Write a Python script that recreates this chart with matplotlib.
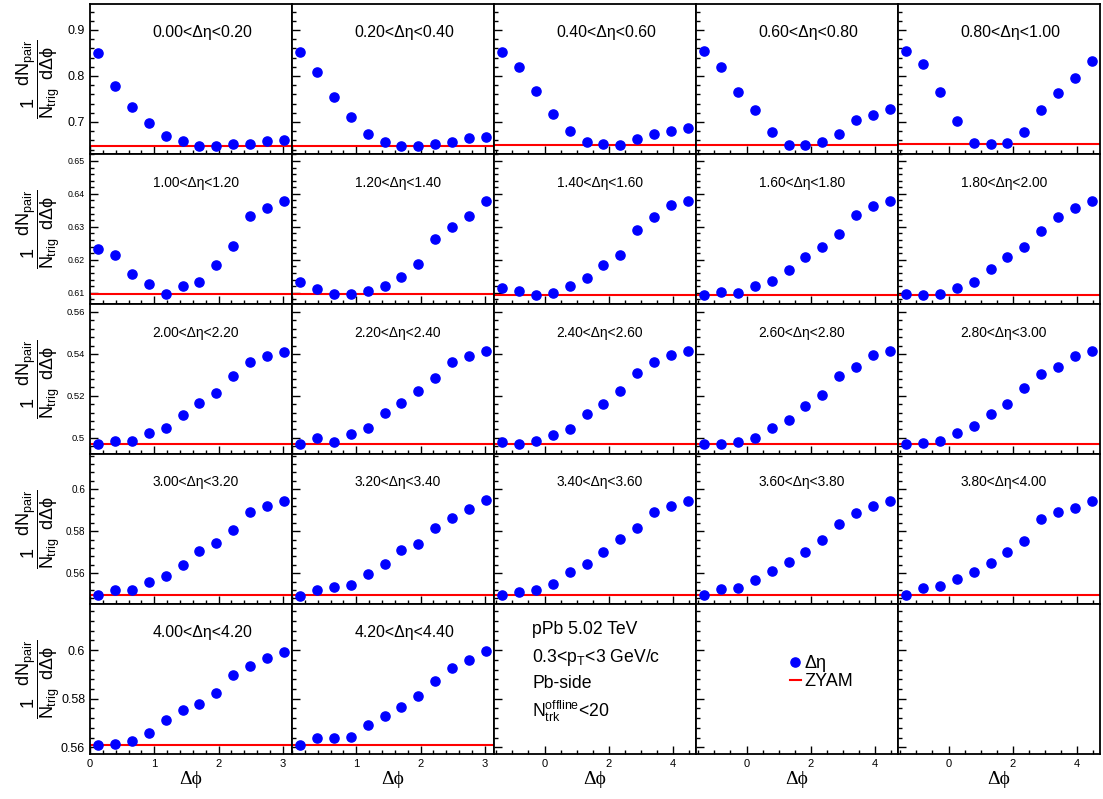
import numpy as np
import matplotlib
matplotlib.use("Agg")
import matplotlib.pyplot as plt
from matplotlib.ticker import MultipleLocator, FormatStrFormatter
from matplotlib.lines import Line2D

plt.rcParams["font.family"] = ["Liberation Sans", "DejaVu Sans"]
plt.rcParams["mathtext.fontset"] = "custom"
plt.rcParams["mathtext.rm"] = "Liberation Sans"
plt.rcParams["mathtext.it"] = "Liberation Sans"
plt.rcParams["mathtext.sf"] = "Liberation Sans"

# delta-phi bin centres: near side only (first two columns) and full range
dphi_near = [0.13, 0.39, 0.65, 0.92, 1.18, 1.44, 1.70, 1.96, 2.23, 2.49, 2.75, 3.01]
dphi_full = [-1.31, -0.79, -0.26, 0.26, 0.79, 1.31, 1.83, 2.36, 2.88, 3.40, 3.93, 4.45]

deta_lo = [0.0, 0.2, 0.4, 0.6, 0.8, 1.0, 1.2, 1.4, 1.6, 1.8, 2.0, 2.2,
           2.4, 2.6, 2.8, 3.0, 3.2, 3.4, 3.6, 3.8, 4.0, 4.2]

# 1/Ntrig dN/dDphi per delta-eta slice, five slices per row
row1 = [
    [0.851, 0.778, 0.733, 0.697, 0.670, 0.658, 0.648, 0.647, 0.652, 0.652, 0.659, 0.660],
    [0.853, 0.808, 0.754, 0.711, 0.674, 0.657, 0.648, 0.648, 0.652, 0.657, 0.665, 0.667],
    [0.853, 0.820, 0.767, 0.717, 0.680, 0.657, 0.652, 0.649, 0.662, 0.674, 0.680, 0.686],
    [0.854, 0.820, 0.765, 0.725, 0.678, 0.650, 0.650, 0.657, 0.674, 0.704, 0.715, 0.728],
    [0.855, 0.825, 0.765, 0.703, 0.654, 0.652, 0.654, 0.678, 0.725, 0.762, 0.796, 0.833],
]
row2 = [
    [0.6233, 0.6215, 0.6157, 0.6126, 0.6097, 0.6122, 0.6134, 0.6183, 0.6243, 0.6332, 0.6356, 0.6379],
    [0.6132, 0.6111, 0.6096, 0.6096, 0.6104, 0.6120, 0.6148, 0.6186, 0.6264, 0.6301, 0.6332, 0.6379],
    [0.6116, 0.6106, 0.6094, 0.6099, 0.6122, 0.6145, 0.6183, 0.6215, 0.6291, 0.6329, 0.6367, 0.6379],
    [0.6093, 0.6102, 0.6098, 0.6121, 0.6137, 0.6169, 0.6208, 0.6240, 0.6279, 0.6335, 0.6363, 0.6379],
    [0.6097, 0.6093, 0.6096, 0.6116, 0.6133, 0.6173, 0.6208, 0.6238, 0.6288, 0.6329, 0.6357, 0.6379],
]
row3 = [
    [0.4969, 0.4986, 0.4984, 0.5021, 0.5046, 0.5109, 0.5164, 0.5212, 0.5297, 0.5363, 0.5391, 0.5411],
    [0.4969, 0.5000, 0.4980, 0.5019, 0.5049, 0.5117, 0.5164, 0.5223, 0.5284, 0.5363, 0.5392, 0.5416],
    [0.4978, 0.4969, 0.4984, 0.5013, 0.5040, 0.5114, 0.5161, 0.5225, 0.5307, 0.5360, 0.5395, 0.5414],
    [0.4970, 0.4970, 0.4981, 0.4999, 0.5046, 0.5087, 0.5154, 0.5206, 0.5297, 0.5340, 0.5393, 0.5414],
    [0.4969, 0.4975, 0.4986, 0.5022, 0.5057, 0.5112, 0.5163, 0.5236, 0.5305, 0.5336, 0.5392, 0.5414],
]
row4 = [
    [0.5494, 0.5520, 0.5518, 0.5558, 0.5587, 0.5638, 0.5706, 0.5745, 0.5806, 0.5890, 0.5920, 0.5944],
    [0.5492, 0.5521, 0.5536, 0.5545, 0.5595, 0.5645, 0.5709, 0.5737, 0.5814, 0.5865, 0.5907, 0.5947],
    [0.5497, 0.5509, 0.5520, 0.5547, 0.5606, 0.5643, 0.5702, 0.5763, 0.5816, 0.5891, 0.5922, 0.5946],
    [0.5494, 0.5525, 0.5531, 0.5566, 0.5610, 0.5654, 0.5699, 0.5760, 0.5833, 0.5888, 0.5922, 0.5946],
    [0.5497, 0.5531, 0.5539, 0.5571, 0.5606, 0.5648, 0.5699, 0.5754, 0.5856, 0.5890, 0.5910, 0.5946],
]
row5 = [
    [0.5609, 0.5614, 0.5627, 0.5660, 0.5711, 0.5752, 0.5777, 0.5822, 0.5897, 0.5934, 0.5967, 0.5993],
    [0.5611, 0.5640, 0.5640, 0.5644, 0.5692, 0.5730, 0.5767, 0.5812, 0.5874, 0.5926, 0.5958, 0.5995],
]

zyam = [
    [0.647, 0.648, 0.649, 0.650, 0.652],
    [0.6097, 0.6096, 0.6094, 0.6093, 0.6093],
    [0.4969, 0.4969, 0.4969, 0.4969, 0.4969],
    [0.5494, 0.5494, 0.5494, 0.5494, 0.5496],
    [0.5609, 0.5610],
]

rows = [row1, row2, row3, row4, row5]

ylims = [(0.6304, 0.9565), (0.6066, 0.6521), (0.4923, 0.5638), (0.5453, 0.6168), (0.5573, 0.6189)]
ymajor = [0.1, 0.01, 0.02, 0.02, 0.02]
ytick_size = [9, 6.3, 6.8, 7.2, 9]
label_size = [11.4, 9.9, 9.9, 9.9, 11.4]

ylabel = r"$\dfrac{1}{N_{\mathrm{trig}}}\dfrac{dN_{\mathrm{pair}}}{d\Delta\phi}$"
greek = ["Liberation Serif", "DejaVu Serif"]

W, H = 1103, 799
left, right, top, bottom = 90, 1100, 4, 754

fig, axes = plt.subplots(5, 5, figsize=(W/100, H/100), dpi=100)
fig.subplots_adjust(left=left/W, right=right/W, top=1-top/H, bottom=1-bottom/H,
                    wspace=0, hspace=0)

k = 0
for r in range(5):
    for c in range(5):
        ax = axes[r, c]
        near = c < 2
        if near:
            ax.set_xlim(0, np.pi)
            ax.xaxis.set_major_locator(MultipleLocator(1))
            ax.xaxis.set_minor_locator(MultipleLocator(0.2))
        else:
            ax.set_xlim(-np.pi/2, 3*np.pi/2)
            ax.xaxis.set_major_locator(MultipleLocator(2))
            ax.xaxis.set_minor_locator(MultipleLocator(0.5))
        ax.set_ylim(*ylims[r])
        ax.yaxis.set_major_locator(MultipleLocator(ymajor[r]))
        ax.yaxis.set_minor_locator(MultipleLocator(ymajor[r] / 5))
        ax.yaxis.set_major_formatter(FormatStrFormatter("%g"))
        ax.tick_params(which="both", direction="in", top=False, right=False,
                       width=1.0, labelsize=ytick_size[r])
        ax.tick_params(which="major", length=6)
        ax.tick_params(which="minor", length=3)
        ax.tick_params(axis="x", labelsize=8)
        for s in ax.spines.values():
            s.set_linewidth(1.3)

        if c > 0:
            ax.tick_params(labelleft=False)
        if r < 4:
            ax.tick_params(labelbottom=False)
        else:
            ax.set_xlabel("\u0394\u03d5", family=greek, fontsize=14)
            ax.xaxis.set_label_coords(0.5, -0.115)
            if c == 1:
                ax.set_xticks([1, 2, 3])
                ax.set_xlim(0, np.pi)
        if c == 0:
            # y title centred on the row, left of the tick labels
            yc = 1 - (top + (r + 0.5) * (bottom - top) / 5) / H
            fig.text(38/W, yc, ylabel, fontsize=13, rotation=90,
                     ha="center", va="center")

        if c < len(rows[r]):
            x = dphi_near if near else dphi_full
            ax.plot(x, rows[r][c], "o", color="#0000ff", ms=6.6, mec="#0000ff", zorder=3)
            ax.axhline(zyam[r][c], color="#ff0000", lw=1.5, zorder=2)
            lo = deta_lo[k]
            ax.text(0.31, 0.81, f"{lo:.2f}<\u0394\u03b7<{lo + 0.2:.2f}",
                    transform=ax.transAxes, fontsize=label_size[r], va="center", ha="left")
            k += 1

# info text and legend in the empty bottom-row pads
info = axes[4, 2]
for yy, s in zip([0.83, 0.645, 0.467, 0.287],
                 ["pPb 5.02 TeV", r"0.3<p$_{\mathrm{T}}$<3 GeV/c", "Pb-side",
                  r"N$_{\mathrm{trk}}^{\mathrm{offline}}$<20"]):
    info.text(0.19, yy, s, transform=info.transAxes, fontsize=12.7, va="center", ha="left")

handles = [Line2D([], [], ls="none", marker="o", color="#0000ff", ms=6.6),
           Line2D([], [], color="#ff0000", lw=1.5)]
axes[4, 3].legend(handles, ["\u0394\u03b7", "ZYAM"], loc="upper left",
                  bbox_to_anchor=(0.465, 0.66), frameon=False, fontsize=13,
                  handlelength=0.6, handletextpad=0.2, borderpad=0, borderaxespad=0,
                  labelspacing=0.05)

fig.savefig("out.png", dpi=100)
